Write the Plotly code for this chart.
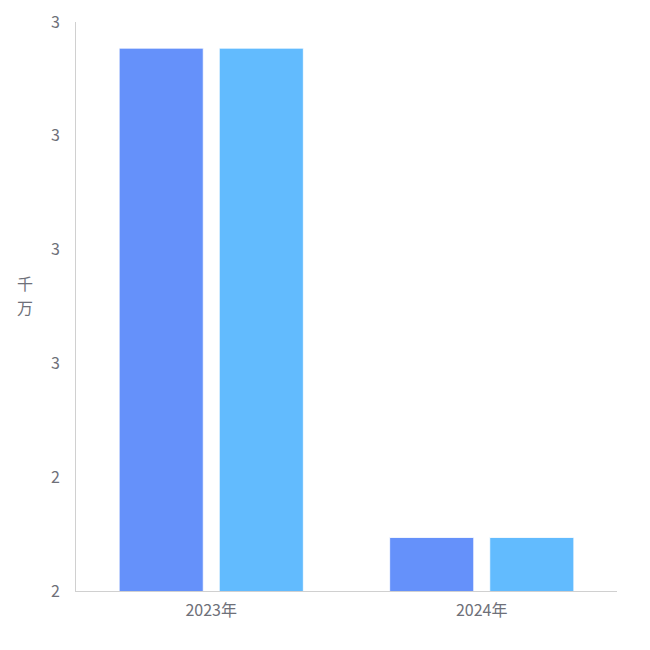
import plotly.graph_objects as go

categories = ["2023年", "2024年"]
series_a = [2.777, 2.347]
series_b = [2.777, 2.347]
tick_vals = [2.3, 2.4, 2.5, 2.6, 2.7, 2.8]
tick_text = ["2", "2", "3", "3", "3", "3"]
y_unit_chars = ["千", "万"]

fig = go.Figure()
fig.add_trace(go.Bar(x=categories, y=series_a, name="A",
                     marker=dict(color="#6591FA", line=dict(color="rgba(255,255,255,0.8)", width=1))))
fig.add_trace(go.Bar(x=categories, y=series_b, name="B",
                     marker=dict(color="#62BBFE", line=dict(color="rgba(255,255,255,0.8)", width=1))))

font_family = "Noto Sans CJK SC, Noto Sans, sans-serif"
fig.update_layout(
    width=650, height=650,
    margin=dict(l=68, r=41, t=14, b=67, autoexpand=False),
    plot_bgcolor="white", paper_bgcolor="white",
    showlegend=False,
    barmode="group", bargap=0.26, bargroupgap=0.16,
    font=dict(family=font_family, size=16, color="#6E7079"),
)
fig.update_yaxes(range=[2.3, 2.8], tickvals=tick_vals, ticktext=tick_text,
                 showgrid=False, zeroline=False, showline=True, linecolor="#D0D0D0",
                 linewidth=1, ticks="", ticklabelstandoff=12, automargin=False)
fig.update_xaxes(showgrid=False, showline=True, linecolor="#D0D0D0", linewidth=1,
                 ticks="", ticklabelstandoff=5, automargin=False)
for ch, yy in zip(y_unit_chars, [0.541, 0.500]):
    fig.add_annotation(text=ch, xref="paper", yref="paper", x=-0.094, y=yy,
                       showarrow=False, font=dict(size=16, color="#6E7079", family=font_family),
                       xanchor="center", yanchor="middle")

fig.write_html("out.html")
